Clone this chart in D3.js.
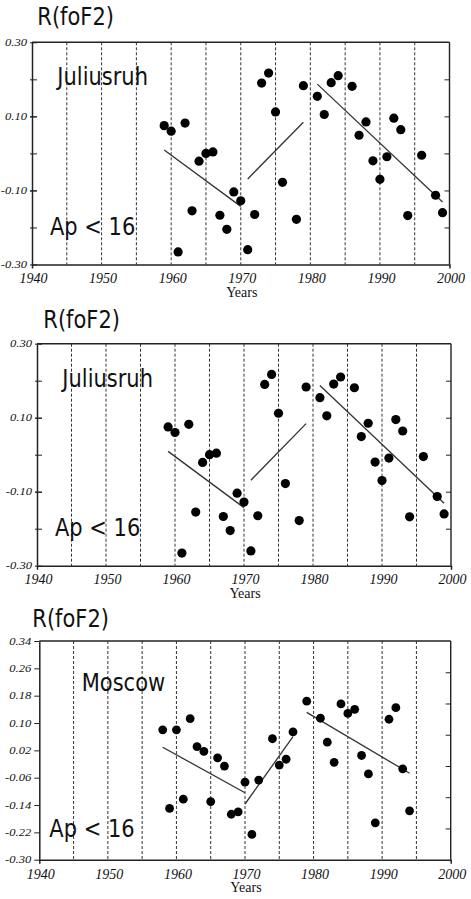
<!DOCTYPE html>
<html>
<head>
<meta charset="utf-8">
<script src="https://cdn.jsdelivr.net/npm/d3@7"></script>
<style>
  body { margin: 0; background: #fff; }
  svg { display: block; }
</style>
</head>
<body>
<div id="chart-area"></div>
<script>
// Juliusruh, Ap < 16 (same data in panels 1 and 2)
var julYears = [1959, 1960, 1961, 1962, 1963, 1964, 1965, 1966, 1967, 1968, 1969, 1970,
    1971, 1972, 1973, 1974, 1975, 1976, 1978, 1979, 1981, 1982, 1983, 1984, 1986,
    1987, 1988, 1989, 1990, 1991, 1992, 1993, 1994, 1996, 1998, 1999];
var julValues = [0.075, 0.060, -0.266, 0.082, -0.155, -0.021, 0.000, 0.004, -0.167, -0.205, -0.104, -0.128,
    -0.260, -0.165, 0.190, 0.217, 0.112, -0.078, -0.178, 0.183, 0.154, 0.105, 0.191, 0.210, 0.181,
    0.049, 0.085, -0.020, -0.070, -0.009, 0.095, 0.064, -0.168, -0.005, -0.113, -0.160];
var julTrends = [
    [[1959, 0.009], [1970, -0.143]],
    [[1971, -0.069], [1979, 0.084]],
    [[1981, 0.187], [1999, -0.131]]
];

// Moscow, Ap < 16
var mosYears = [1958, 1959, 1960, 1961, 1962, 1963, 1964, 1965, 1966, 1967, 1968, 1969,
    1970, 1971, 1972, 1974, 1975, 1976, 1977, 1979, 1981, 1982, 1983, 1984, 1985,
    1986, 1987, 1988, 1989, 1991, 1992, 1993, 1994];
var mosValues = [0.080, -0.150, 0.080, -0.123, 0.113, 0.031, 0.017, -0.130, -0.002, -0.026, -0.167, -0.160,
    -0.073, -0.226, -0.067, 0.054, -0.023, -0.006, 0.074, 0.164, 0.114, 0.044, -0.015, 0.156, 0.128,
    0.140, 0.005, -0.049, -0.192, 0.111, 0.145, -0.034, -0.157];
var mosTrends = [
    [[1958, 0.029], [1970, -0.104]],
    [[1970, -0.137], [1977, 0.060]],
    [[1979, 0.131], [1994, -0.047]]
];

// ticks
var xTickLabels = [1940, 1950, 1960, 1970, 1980, 1990, 2000];
var gridYears = [1945, 1950, 1955, 1960, 1965, 1970, 1975, 1980, 1985, 1990, 1995];
var julYLabels = [0.30, 0.10, -0.10, -0.30];
var julYTicks = [0.20, 0.10, 0.00, -0.10, -0.20];
var mosYLabels = [0.34, 0.26, 0.18, 0.10, 0.02, -0.06, -0.14, -0.22, -0.30];

var svg = d3.select("#chart-area")
    .append("svg")
        .attr("width", 471)
        .attr("height", 899);

var panels = [
    { left: 32, right: 449.5, top: 42.3, bottom: 264.5, yDomain: [-0.30, 0.30],
      years: julYears, values: julValues, trends: julTrends, station: "Juliusruh",
      yLabels: julYLabels, rightTicks: julYTicks, rightDomain: [-0.30, 0.30], leftTicks: julYTicks,
      tickOut: 2, title: [37.3, 25], stationPos: [57.3, 85], apPos: [50, 235], r: 4.6 },
    { left: 37, right: 451, top: 343.7, bottom: 565.7, yDomain: [-0.30, 0.30],
      years: julYears, values: julValues, trends: julTrends, station: "Juliusruh",
      yLabels: julYLabels, rightTicks: julYTicks, rightDomain: [-0.30, 0.30], leftTicks: julYTicks,
      tickOut: 2, title: [43.3, 328.3], stationPos: [62.3, 387.3], apPos: [55, 536], r: 4.6 },
    { left: 39.3, right: 450.7, top: 641, bottom: 859.7, yDomain: [-0.30, 0.34],
      years: mosYears, values: mosValues, trends: mosTrends, station: "Moscow",
      yLabels: mosYLabels, rightTicks: [1, 2, 3, 4, 5, 6], rightDomain: [0, 7], leftTicks: [],
      tickOut: 5, title: [32.3, 627.3], stationPos: [81.7, 691], apPos: [49.3, 836.7], r: 4.4 }
];

panels.forEach(drawPanel);

function drawPanel(p) {
    var width = p.right - p.left,
        height = p.bottom - p.top;

    var g = svg.append("g")
        .attr("transform", "translate(" + p.left + "," + p.top + ")");

    var x = d3.scaleLinear().domain([1940, 2000]).range([0, width]);
    var y = d3.scaleLinear().domain(p.yDomain).range([height, 0]);
    var yRight = d3.scaleLinear().domain(p.rightDomain).range([height, 0]);

    // dashed year grid
    g.selectAll(".grid")
        .data(gridYears)
        .enter().append("line")
            .attr("x1", function(d){ return x(d); })
            .attr("x2", function(d){ return x(d); })
            .attr("y1", 0)
            .attr("y2", height)
            .attr("stroke", "#333")
            .attr("stroke-width", 1)
            .attr("stroke-dasharray", "3,2");

    // frame
    g.append("line").attr("x1", 0).attr("x2", width).attr("y1", 0).attr("y2", 0)
        .attr("stroke", "#222").attr("stroke-width", 1.6);
    g.append("line").attr("x1", width).attr("x2", width).attr("y1", 0).attr("y2", height)
        .attr("stroke", "#222").attr("stroke-width", 1.4);

    // bottom axis (outer ticks only)
    var xAxis = g.append("g")
        .attr("transform", "translate(0," + height + ")")
        .call(d3.axisBottom(x).tickValues([]).tickSizeInner(0).tickSizeOuter(4));
    xAxis.select(".domain").attr("stroke", "#222").attr("stroke-width", 1.5);

    // left axis
    var yAxis = g.append("g")
        .call(d3.axisLeft(y).tickValues(p.yLabels.concat(p.leftTicks)).tickFormat("")
            .tickSizeInner(p.tickOut).tickSizeOuter(0));
    yAxis.select(".domain").attr("stroke", "#222").attr("stroke-width", 1.5);
    yAxis.selectAll(".tick line").attr("stroke", "#222");
    if (p.leftTicks.length) {
        // ticks cross the left axis
        g.append("g")
            .call(d3.axisRight(y).tickValues(p.yLabels.concat(p.leftTicks)).tickFormat("")
                .tickSizeInner(5).tickSizeOuter(0))
            .call(function(s){ s.select(".domain").remove(); })
            .selectAll(".tick line").attr("stroke", "#222");
    }

    // right side inward ticks
    g.append("g")
        .attr("transform", "translate(" + width + ",0)")
        .call(d3.axisLeft(yRight).tickValues(p.rightTicks).tickFormat("")
            .tickSizeInner(5).tickSizeOuter(0))
        .call(function(s){ s.select(".domain").remove(); })
        .selectAll(".tick line").attr("stroke", "#222");

    // y tick labels
    g.selectAll(".ylab")
        .data(p.yLabels)
        .enter().append("text")
            .attr("transform", function(d){
                return "translate(" + (-p.tickOut - 3) + "," + (y(d) + 3.5) + ") scale(1,0.85)";
            })
            .attr("text-anchor", "end")
            .attr("font-family", "Liberation Serif, serif")
            .attr("font-style", "italic")
            .attr("font-size", "12.6px")
            .attr("fill", "#111")
            .text(function(d){ return d3.format(".2f")(d).replace("−", "-"); });

    // x tick labels
    g.selectAll(".xlab")
        .data(xTickLabels)
        .enter().append("text")
            .attr("x", function(d){ return x(d) + 1.5; })
            .attr("y", height + 18.8)
            .attr("text-anchor", "middle")
            .attr("font-family", "Liberation Serif, serif")
            .attr("font-style", "italic")
            .attr("font-size", "14px")
            .attr("fill", "#111")
            .text(function(d){ return d; });

    // X Label
    g.append("text")
        .attr("x", width / 2 + 1)
        .attr("y", height + 32.5)
        .attr("text-anchor", "middle")
        .attr("font-family", "Liberation Serif, serif")
        .attr("font-size", "14px")
        .attr("fill", "#111")
        .text("Years");

    // trend lines
    var line = d3.line()
        .x(function(d){ return x(d[0]); })
        .y(function(d){ return y(d[1]); });
    g.selectAll(".trend")
        .data(p.trends)
        .enter().append("path")
            .attr("d", line)
            .attr("fill", "none")
            .attr("stroke", "#333")
            .attr("stroke-width", 1.3);

    // points
    g.selectAll(".dot")
        .data(p.years)
        .enter().append("circle")
            .attr("cx", function(d){ return x(d); })
            .attr("cy", function(d, i){ return y(p.values[i]); })
            .attr("r", p.r)
            .attr("fill", "#000");

    // big labels
    var big = [
        { t: "R(foF2)", pos: p.title },
        { t: p.station, pos: p.stationPos },
        { t: "Ap < 16", pos: p.apPos }
    ];
    svg.selectAll(null)
        .data(big)
        .enter().append("text")
            .attr("transform", function(d){
                return "translate(" + d.pos[0] + "," + d.pos[1] + ") scale(1,1.2)";
            })
            .attr("font-family", "DejaVu Sans, sans-serif")
            .attr("font-size", "21px")
            .attr("fill", "#111")
            .text(function(d){ return d.t; });
}
</script>
</body>
</html>
